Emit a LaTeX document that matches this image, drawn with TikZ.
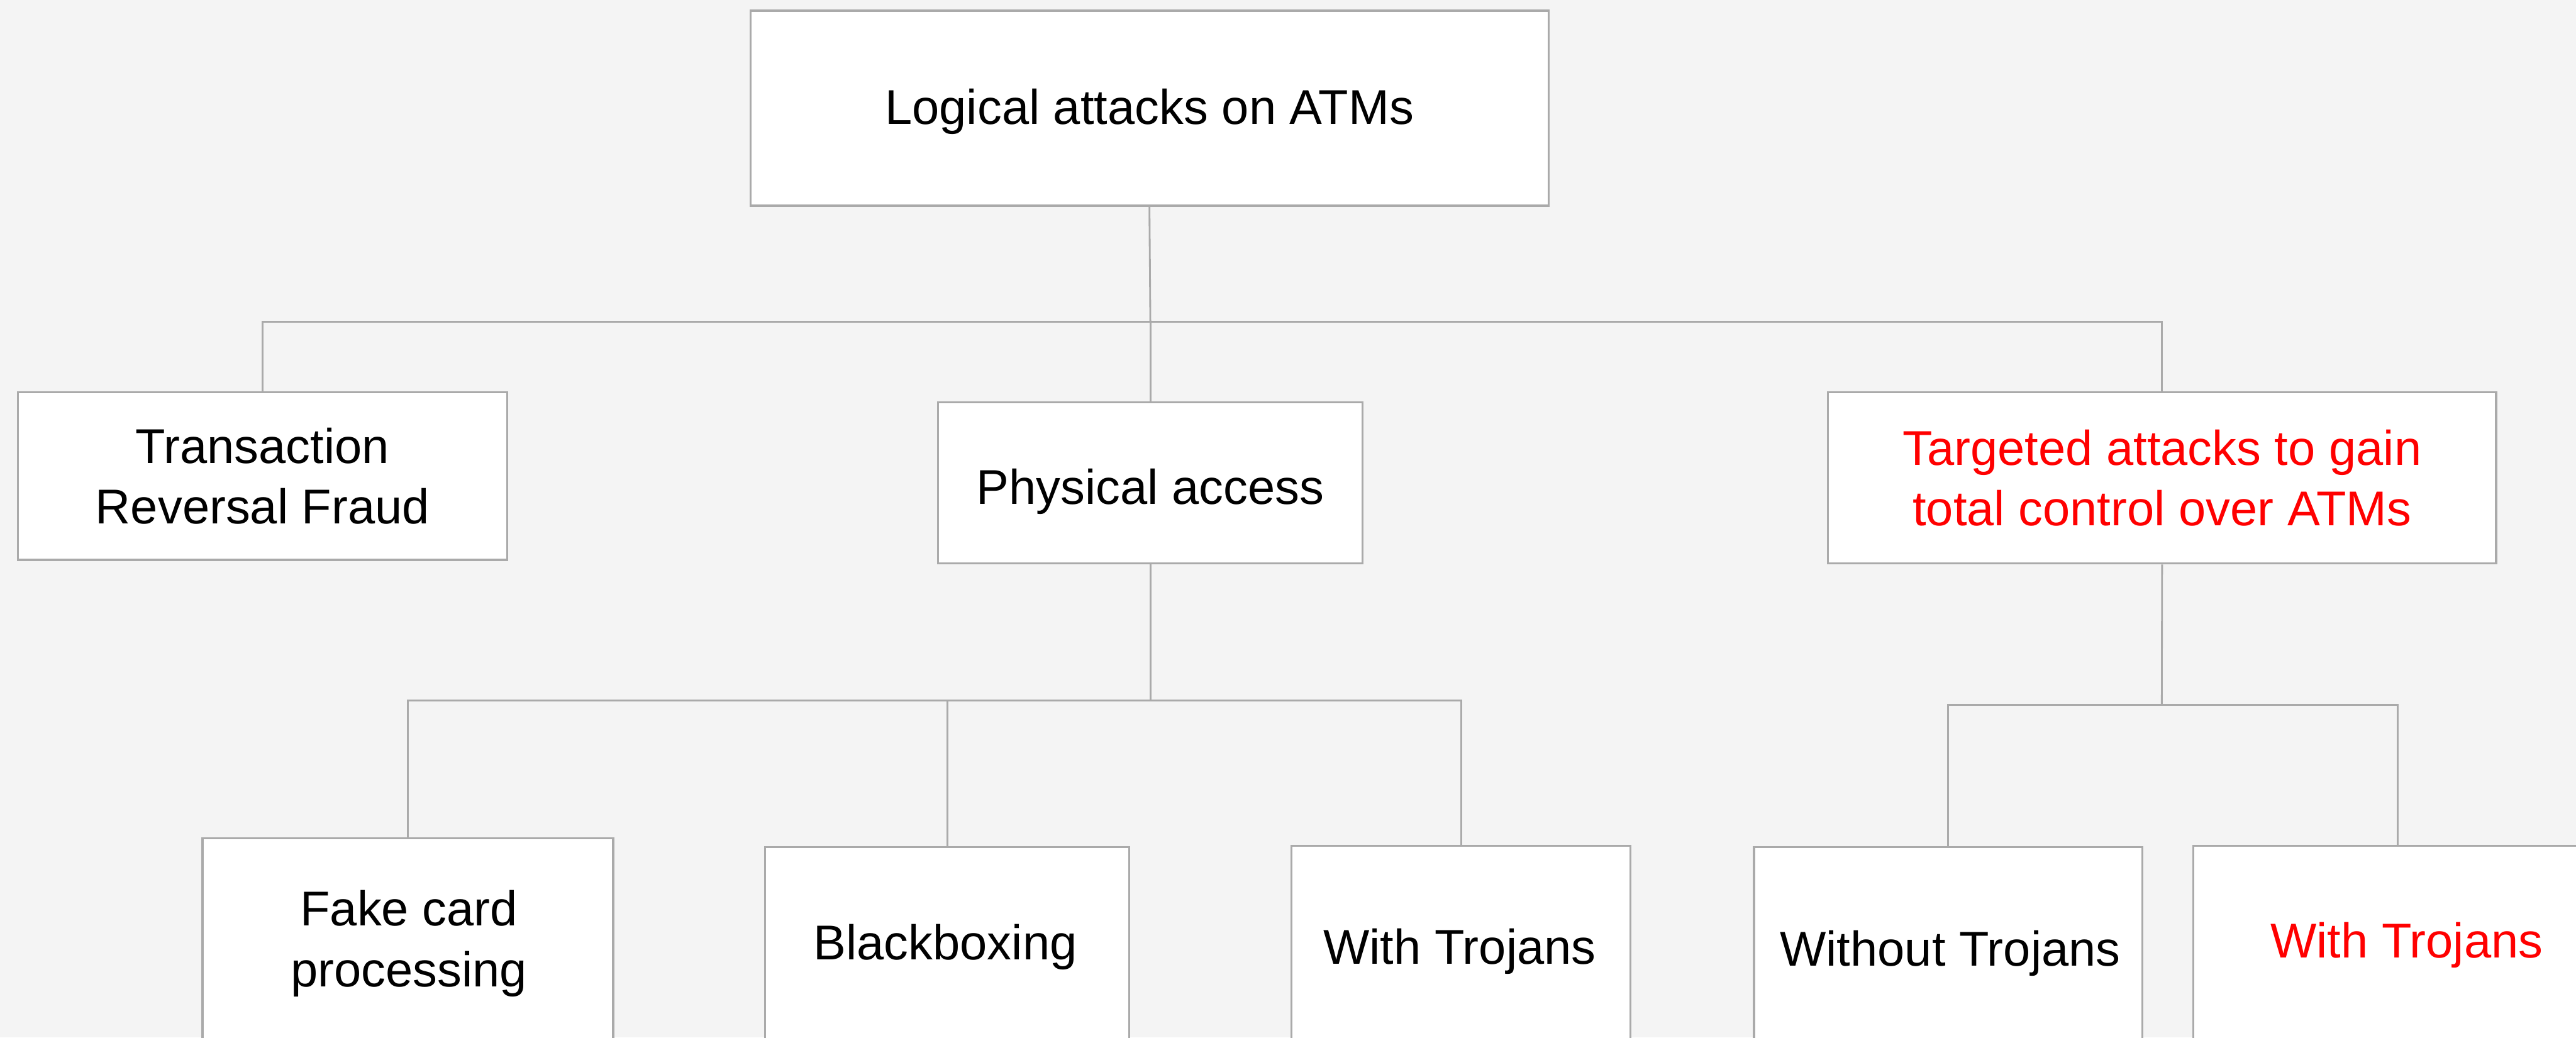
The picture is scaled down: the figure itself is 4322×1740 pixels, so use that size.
\documentclass[tikz,border=0pt]{standalone}
\usepackage{fontspec}
\setmainfont{Liberation Sans}
\definecolor{pagebg}{HTML}{F4F4F4}
\definecolor{edgegray}{HTML}{AAAAAA}
\definecolor{alertred}{HTML}{FF0000}
\begin{document}
\begin{tikzpicture}[x=1pt,y=-1pt,
  box/.style={draw=edgegray, line width=3.5pt, fill=white, inner sep=0pt,
    align=center, font=\fontsize{82}{102}\selectfont},
  label/.style={inner sep=0pt, align=center, anchor=base,
    font=\fontsize{82}{102}\selectfont},
  conn/.style={draw=edgegray, line width=3pt},
  hot/.style={text=alertred}]
  % canvas
  \useasboundingbox (0,0) rectangle (4322,1740);
  \fill[pagebg] (0,0) rectangle (4322,1740);
  \clip (0,0) rectangle (4322,1740);

  % connector junctions
  \coordinate (busA) at (1930,540);
  \coordinate (busB) at (1930,1175);
  \coordinate (busC) at (3627,1182);

  % top level
  \node[box, minimum width=1339pt, minimum height=327pt,
    text height=53pt, text depth=0pt] (root) at (1928.5,181.5)
    {Logical attacks on ATMs};

  % second level
  \node[box, minimum width=821pt, minimum height=281pt] (trf) at (440.5,798.5)
    {Transaction\\Reversal Fraud};
  \node[box, minimum width=712pt, minimum height=270pt,
    text height=72pt, text depth=0pt] (phys) at (1930,810)
    {Physical access};
  \node[box, hot, minimum width=1121pt, minimum height=287pt] (tgt) at (3627.5,801.5)
    {Targeted attacks to gain\\total control over ATMs};

  % third level (boxes run past the lower edge)
  \node[box, anchor=north west, minimum width=689pt, minimum height=600pt] (fake) at (338,1404) {};
  \node[box, anchor=north west, minimum width=611pt, minimum height=600pt] (blk) at (1282,1419) {};
  \node[box, anchor=north west, minimum width=569pt, minimum height=600pt] (wtA) at (2165,1417) {};
  \node[box, anchor=north west, minimum width=652pt, minimum height=600pt] (wot) at (2941,1419) {};
  \node[box, anchor=north west, minimum width=686pt, minimum height=600pt] (wtB) at (3678,1417) {};

  % labels sit on the baseline of their last line
  \node[label] (fakeT) at (686,1655) {Fake card\\processing};
  \node[label] (blkT) at (1586,1610) {Blackboxing};
  \node[label] (wtAT) at (2449,1617) {With Trojans};
  \node[label] (wotT) at (3272,1620) {Without Trojans};
  \node[label, hot] (wtBT) at (4038,1607) {With Trojans};

  % connectors: root to second level
  \draw[conn] (root.south) -- (busA);
  \draw[conn] (trf.north) |- (busA);
  \draw[conn] (tgt.north) |- (busA);
  \draw[conn] (phys.north) -- (busA);

  % connectors: physical access to its children
  \draw[conn] (phys.south) -- (busB);
  \draw[conn] (fake.north) |- (busB);
  \draw[conn] (blk.north) |- (busB);
  \draw[conn] (wtA.north) |- (busB);

  % connectors: targeted attacks to its children
  \draw[conn] (tgt.south) -- (busC);
  \draw[conn] (wot.north) |- (busC);
  \draw[conn] (wtB.north) |- (busC);
\end{tikzpicture}
\end{document}
